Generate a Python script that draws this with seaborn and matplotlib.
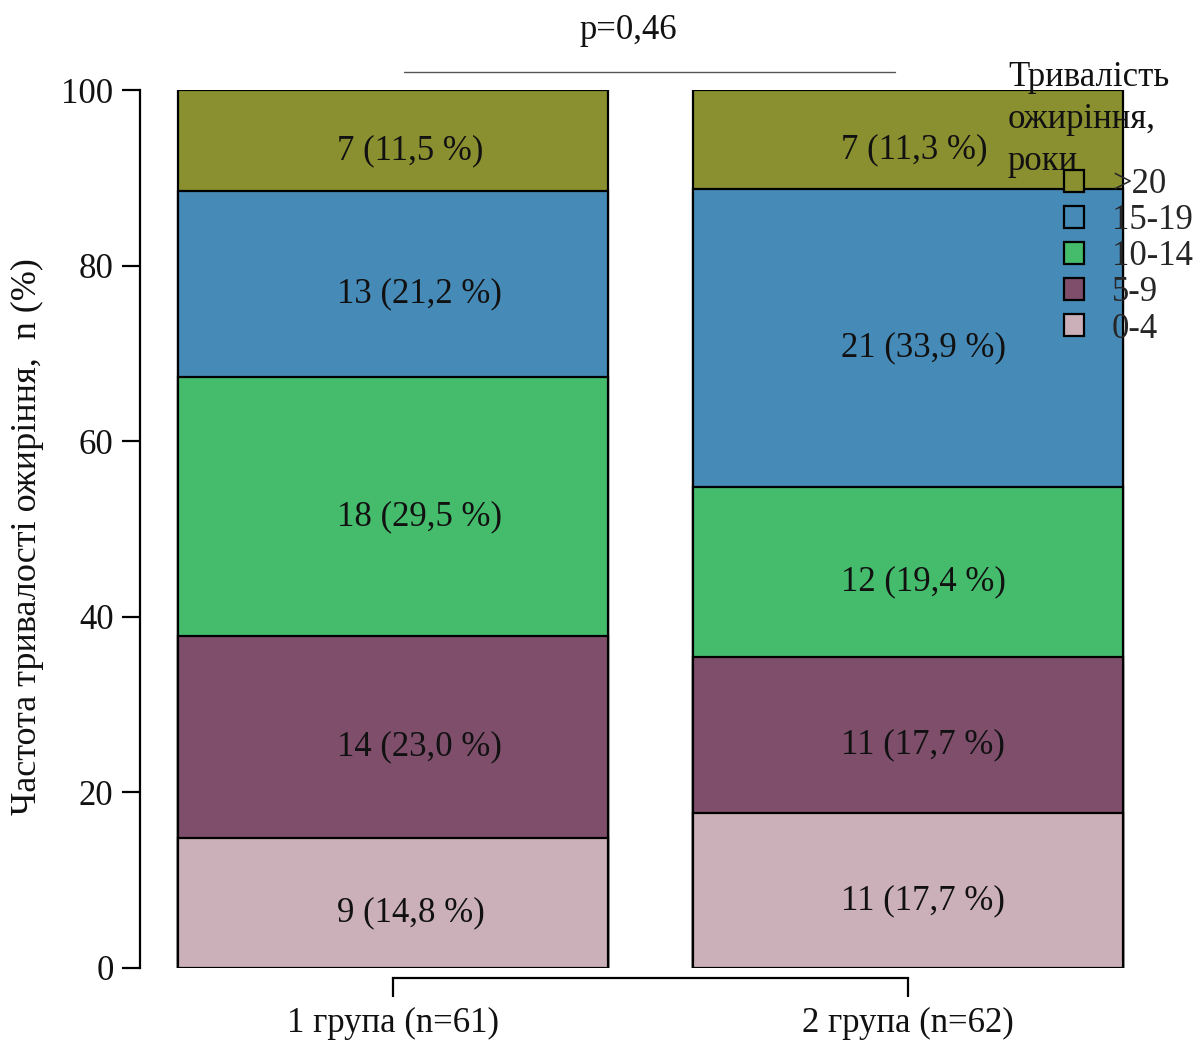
import matplotlib
matplotlib.use("Agg")
import matplotlib.pyplot as plt
from matplotlib.patches import Patch
import numpy as np
import pandas as pd
import seaborn as sns

# Data: obesity duration by group, counts and percentages
groups = ["1 група (n=61)", "2 група (n=62)"]
categories = ["0-4", "5-9", "10-14", "15-19", ">20"]
counts_g1 = [9, 14, 18, 13, 7]
counts_g2 = [11, 11, 12, 21, 7]
pct_g1 = [14.8, 23.0, 29.5, 21.2, 11.5]
pct_g2 = [17.7, 17.7, 19.4, 33.9, 11.3]
colors = ["#CCB0B9", "#7E4E6B", "#45BB6C", "#468BB8", "#8A8F2F"]
p_text = "p=0,46"
ylabel = "Частота тривалості ожиріння,  n (%)"
legend_title_lines = ["Тривалість", "ожиріння,", "роки"]

sns.set_theme(style="white")
plt.rcParams["font.family"] = ["Liberation Serif", "DejaVu Serif"]

FS = 25
TXT = "#111111"
label_dx = [-0.108, -0.131]   # left edge of segment labels relative to bar centre

fig = plt.figure(figsize=(12.02, 10.40), dpi=100)
ax = fig.add_axes([140 / 1202, 1 - 968 / 1040, 1020 / 1202, 878 / 1040])

pct = np.array([pct_g1, pct_g2])
cnt = np.array([counts_g1, counts_g2])
cum = np.cumsum(pct, axis=1)

# Stacked bars: draw cumulative totals from the top category down
for k in range(len(categories) - 1, -1, -1):
    df = pd.DataFrame({"group": groups, "value": cum[:, k]})
    sns.barplot(data=df, x="group", y="value", color=colors[k], saturation=1,
                edgecolor="black", linewidth=1.6, width=0.835, ax=ax)

# Segment labels
for i in range(len(groups)):
    bottom = 0.0
    for k in range(len(categories)):
        v = pct[i, k]
        txt = f"{cnt[i, k]} ({v:.1f} %)".replace(".", ",")
        ax.text(i + label_dx[i], bottom + v / 2 - 1.15, txt, ha="left", va="center",
                fontsize=FS, color=TXT)
        bottom += v

ax.set_xlim(-0.491, 1.489)
ax.set_ylim(0, 100)
ax.set_xlabel("")
ax.set_ylabel("")

# R-style detached axes
for s in ["top", "right"]:
    ax.spines[s].set_visible(False)
ax.spines["left"].set_bounds(0, 100)
ax.spines["left"].set_linewidth(1.6)
ax.spines["left"].set_color("black")
ax.spines["bottom"].set_position(("outward", 7))
ax.spines["bottom"].set_bounds(0, 1)
ax.spines["bottom"].set_linewidth(1.6)
ax.spines["bottom"].set_color("black")
ax.set_yticks([0, 20, 40, 60, 80, 100])
ax.tick_params(axis="y", direction="out", length=13, width=1.6, pad=6,
               labelsize=FS, left=True, colors="black")
ax.tick_params(axis="x", direction="out", length=14, width=1.6, pad=7,
               labelsize=FS, bottom=True, colors="black")
for lab in ax.get_xticklabels() + ax.get_yticklabels():
    lab.set_color(TXT)

# Significance line and p-value
ax.plot([0.021, 0.975], [102.05, 102.05], color="#555555", lw=1.0, clip_on=False)
ax.text(0.456, 106.8, p_text, ha="center", va="center", fontsize=FS, color=TXT)

fig.text(27 / 1202, 1 - 537 / 1040, ylabel, rotation=90, ha="center", va="center",
         fontsize=FS + 1, color=TXT)

# Legend title, one line at a time
for j, line in enumerate(legend_title_lines):
    fig.text(1008 / 1202, 1 - (73 + 42 * j) / 1040, line, ha="left",
             va="center_baseline", fontsize=FS, color=TXT)

handles = [Patch(facecolor=colors[k], edgecolor="black", linewidth=1.6,
                 label=categories[k]) for k in range(len(categories) - 1, -1, -1)]
fig.legend(handles=handles, loc="upper left",
           bbox_to_anchor=(1064 / 1202, 1 - 168 / 1040),
           frameon=False, fontsize=FS, handlelength=0.58, handleheight=0.58,
           handletextpad=0.8, labelspacing=0.09, borderpad=0, borderaxespad=0)

fig.savefig("out.png", dpi=100)
